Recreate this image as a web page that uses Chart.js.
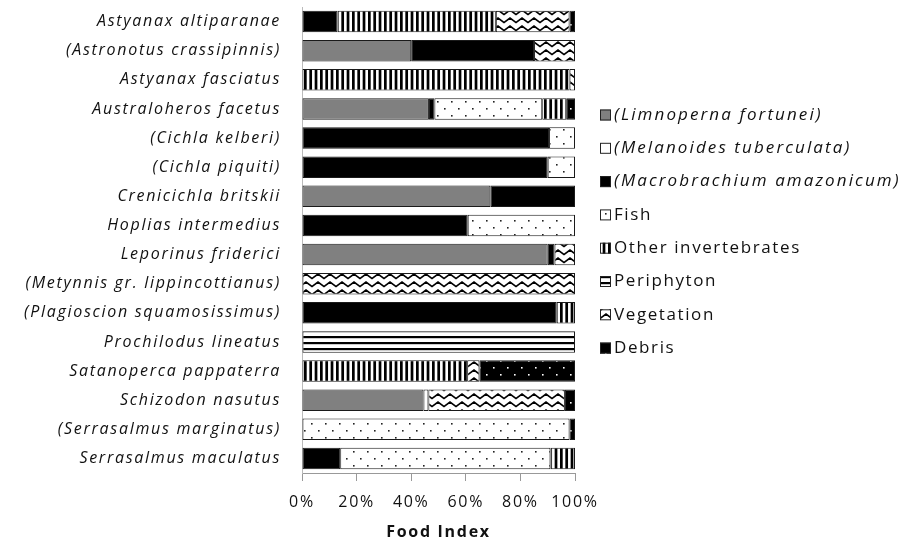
<!DOCTYPE html>
<html>
<head>
<meta charset="utf-8">
<script src="https://cdn.jsdelivr.net/npm/chart.js@4"></script>
<style>
  html, body { margin: 0; padding: 0; background: #fff; }
  #wrap { width: 904px; height: 544px; position: relative; }
</style>
</head>
<body>
<div id="wrap"><canvas id="myChart" width="904" height="544"></canvas></div>
<script>
// fish species, top to bottom
var species = [
    'Astyanax altiparanae', '(Astronotus crassipinnis)', 'Astyanax fasciatus',
    'Australoheros facetus', '(Cichla kelberi)', '(Cichla piquiti)',
    'Crenicichla britskii', 'Hoplias intermedius', 'Leporinus friderici',
    '(Metynnis gr. lippincottianus)', '(Plagioscion squamosissimus)',
    'Prochilodus lineatus', 'Satanoperca pappaterra', 'Schizodon nasutus',
    '(Serrasalmus marginatus)', 'Serrasalmus maculatus'
];

// food items (legend order)
var foodItems = [
    '(Limnoperna fortunei)', '(Melanoides tuberculata)', '(Macrobrachium amazonicum)',
    'Fish', 'Other invertebrates', 'Periphyton', 'Vegetation', 'Debris'
];
var italicItem = [true, true, true, false, false, false, false, false];

// food index (%) per species, one array per food item
var limnoperna  = [0, 40, 0, 46.5, 0, 0, 69, 0, 90, 0, 0, 0, 0, 44.5, 0, 0];
var melanoides  = [0, 0, 0, 0, 0, 0, 0, 0, 0, 0, 0, 0, 0, 1.8, 0, 0];
var macrobrach  = [13, 45, 0, 2, 90.5, 90, 31, 60.7, 2.5, 0, 93.3, 0, 0, 0, 0, 14];
var fish        = [0, 0, 0, 39.5, 9.5, 10, 0, 39.3, 0, 0, 0, 0, 0, 0, 98, 77];
var otherInv    = [58, 0, 98, 9, 0, 0, 0, 0, 0, 0, 6.7, 0, 60.5, 0, 0, 9];
var periphyton  = [0, 0, 0, 0, 0, 0, 0, 0, 0, 0, 0, 100, 0, 0, 0, 0];
var vegetation  = [27, 15, 2, 0, 0, 0, 0, 0, 7.5, 100, 0, 0, 4.5, 50, 0, 0];
var debris      = [2, 0, 0, 3, 0, 0, 0, 0, 0, 0, 0, 0, 35, 3.7, 2, 0];

var xTicks = [0, 20, 40, 60, 80, 100];

// ---- fill patterns ----
function tile(w, h, draw) {
    var c = document.createElement('canvas');
    c.width = w; c.height = h;
    var g = c.getContext('2d');
    draw(g, w, h);
    return document.getElementById('myChart').getContext('2d').createPattern(c, 'repeat');
}
function dots(bg, fg) {
    return tile(14, 14, function (g, w, h) {
        g.fillStyle = bg; g.fillRect(0, 0, w, h);
        g.fillStyle = fg;
        g.fillRect(3, 3, 1.6, 1.6);
        g.fillRect(10, 10, 1.6, 1.6);
    });
}
var fills = [
    '#808080',
    '#ffffff',
    '#000000',
    dots('#ffffff', '#222'),
    tile(16, 4, function (g, w, h) {          // vertical stripes
        g.fillStyle = '#fff'; g.fillRect(0, 0, w, h);
        g.fillStyle = '#000';
        for (var i = 0; i < 3; i++) g.fillRect(i * 16 / 3, 0, 2.7, h);
    }),
    tile(4, 6, function (g, w, h) {           // horizontal stripes
        g.fillStyle = '#fff'; g.fillRect(0, 0, w, h);
        g.fillStyle = '#000'; g.fillRect(0, 0, w, 2.2);
    }),
    tile(12, 8, function (g, w, h) {          // zigzag
        g.fillStyle = '#fff'; g.fillRect(0, 0, w, h);
        g.strokeStyle = '#000'; g.lineWidth = 1.7;
        g.beginPath();
        g.moveTo(-6, 2); g.lineTo(0, 6.5); g.lineTo(6, 2); g.lineTo(12, 6.5); g.lineTo(18, 2);
        g.stroke();
    }),
    dots('#000000', '#fff')
];

var series = [limnoperna, melanoides, macrobrach, fish, otherInv, periphyton, vegetation, debris];

var datasets = series.map(function (vals, i) {
    return {
        label: foodItems[i],
        data: vals,
        backgroundColor: fills[i],
        borderColor: '#1a1a1a',
        borderWidth: 1,
        borderSkipped: false,
        categoryPercentage: 1,
        barPercentage: 0.74
    };
});

// wide letter spacing for all text on the canvas
var spacing = {
    id: 'spacing',
    beforeLayout: function (chart) { chart.ctx.letterSpacing = '1.7px'; },
    beforeDraw: function (chart) { chart.ctx.letterSpacing = '1.7px'; }
};

// legend drawn by hand so some entries can be italic
var sideLegend = {
    id: 'sideLegend',
    afterDraw: function (chart) {
        var ctx = chart.ctx;
        ctx.save();
        chart.data.datasets.forEach(function (ds, i) {
            var y = 115 + i * 33.3;
            ctx.fillStyle = ds.backgroundColor;
            ctx.fillRect(600, y - 5.5, 11, 11);
            ctx.strokeStyle = '#222';
            ctx.lineWidth = 1;
            ctx.strokeRect(600.5, y - 5, 10, 10);
            ctx.fillStyle = '#111';
            ctx.letterSpacing = italicItem[i] ? '2.1px' : '1.6px';
            ctx.font = (italicItem[i] ? 'italic ' : '') + '17px "Open Sans"';
            ctx.textBaseline = 'middle';
            ctx.textAlign = 'left';
            ctx.fillText(ds.label, 614, y);
        });
        ctx.restore();
    }
};

const config = {
    type: 'bar',
    data: { labels: species, datasets: datasets },
    options: {
        indexAxis: 'y',
        responsive: false,
        animation: false,
        layout: { padding: { top: 7, right: 329, bottom: 0, left: 0 } },
        plugins: {
            legend: { display: false },
            tooltip: { enabled: false }
        },
        scales: {
            x: {
                stacked: true,
                min: 0, max: 100,
                afterBuildTicks: function (scale) {
                    scale.ticks = xTicks.map(function (v) { return { value: v }; });
                },
                afterFit: function (scale) { scale.height = 71; },
                grid: { drawOnChartArea: false, drawTicks: true, tickLength: 8, color: '#999' },
                border: { color: '#999' },
                ticks: {
                    padding: 12,
                    maxRotation: 0,
                    minRotation: 0,
                    autoSkip: false,
                    color: '#111',
                    font: { family: 'Open Sans', size: 16 },
                    callback: function (v) { return v + '%'; }
                },
                title: {
                    display: true, text: 'Food Index', color: '#111',
                    font: { family: 'Open Sans', size: 16, weight: 'bold' },
                    padding: { top: 0, bottom: 2 }
                }
            },
            y: {
                stacked: true,
                afterFit: function (scale) {
                    scale.width = 302;
                    scale.paddingTop = 0;
                    scale.paddingBottom = 0;
                },
                grid: { display: false },
                border: { color: '#bbb' },
                ticks: {
                    padding: 13,
                    color: '#111',
                    font: { family: 'Open Sans', size: 16, style: 'italic' }
                }
            }
        }
    },
    plugins: [spacing, sideLegend]
};

var myChart = new Chart(document.getElementById('myChart'), config);
</script>
</body>
</html>
